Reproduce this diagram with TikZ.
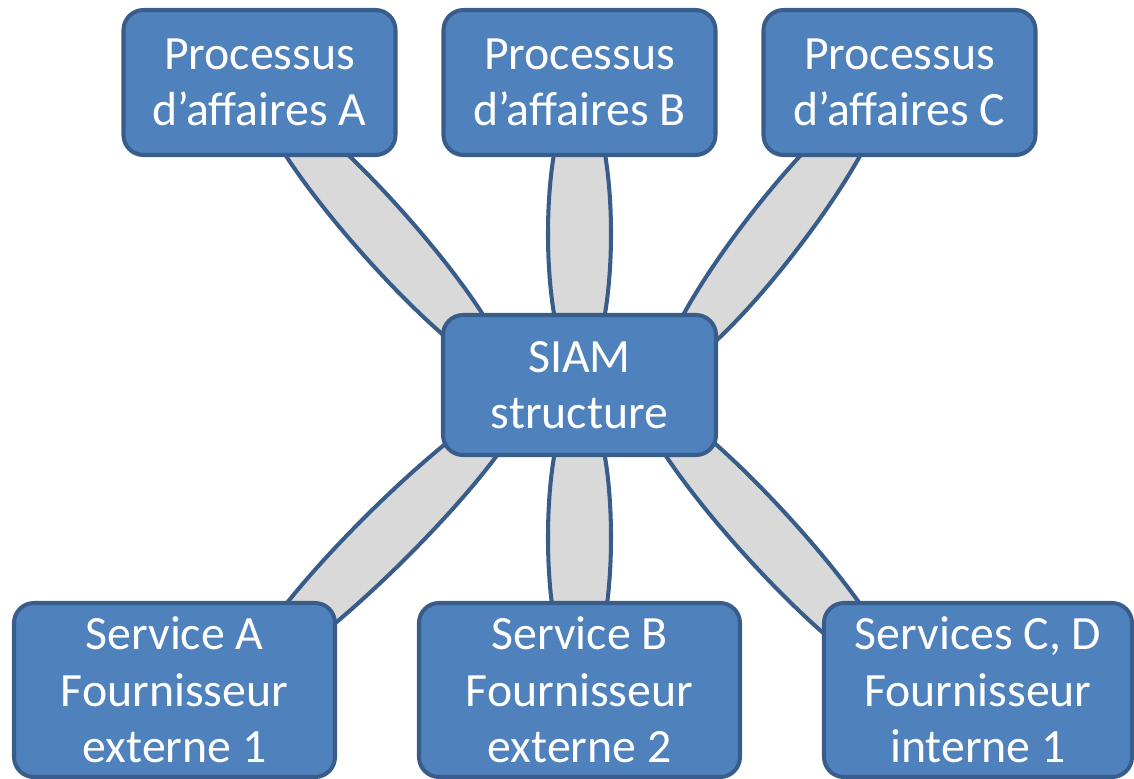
\documentclass[tikz,border=0pt]{standalone}
\usepackage{fontspec}
\setmainfont{Carlito}
\usepackage{tikz}
\usetikzlibrary{positioning, calc, backgrounds, shapes.geometric}
\tikzset{every picture/.append style={thick}}
\definecolor{boxblue}{HTML}{4F81BD}
\definecolor{boxedge}{HTML}{385D8A}
\definecolor{linkgray}{HTML}{D9D9D9}

\begin{document}
\begin{tikzpicture}[
    box/.style={draw=boxedge, fill=boxblue, line width=1.15pt, rounded corners=0.2cm,
        text=white, align=center, inner sep=0pt, font=\fontsize{13.6}{16.1}\selectfont},
    procbox/.style={box, minimum width=2.72cm, minimum height=1.45cm},
    svcbox/.style={box, minimum width=3.21cm, minimum height=1.74cm},
    link/.style={ellipse, draw=boxedge, fill=linkgray, line width=1.15pt, inner sep=0pt}
]
    \useasboundingbox (0,0) rectangle (11.34,7.78);

    % উপরের তিনটি বক্স (Processus d'affaires)
    \node[procbox] (procA) at (2.595,6.955) {Processus\\d’affaires A};
    \node[procbox] (procB) at (5.795,6.955) {Processus\\d’affaires B};
    \node[procbox] (procC) at (8.995,6.955) {Processus\\d’affaires C};

    % মাঝের বক্স (SIAM)
    \node[box, minimum width=2.73cm, minimum height=1.40cm] (siam) at (5.795,3.93) {SIAM\\structure};

    % নিচের তিনটি বক্স (Services)
    \node[svcbox] (svcA) at (1.745,0.88) {Service A\\Fournisseur\\externe 1};
    \node[svcbox] (svcB) at (5.795,0.88) {Service B\\Fournisseur\\externe 2};
    \node[svcbox, minimum width=3.08cm] (svcCD) at (9.78,0.88) {Services C, D\\Fournisseur\\interne 1};

    % তির্যক সংযোগের প্রান্তবিন্দু (link ends)
    \coordinate (endA1) at ($(procA)+(-0.10,0)$);
    \coordinate (endA2) at ($(siam)+(-0.62,0)$);
    \coordinate (endC1) at ($(procC)+(-0.10,0)$);
    \coordinate (endC2) at ($(siam)+(0.76,0)$);
    \coordinate (endSA1) at ($(siam)+(-0.41,0)$);
    \coordinate (endSA2) at ($(svcA)+(0.58,0)$);
    \coordinate (endSC1) at ($(siam)+(0.50,0)$);
    \coordinate (endSC2) at ($(svcCD)+(-0.71,0)$);

    % সংযোগ (ellipse connectors) -- বক্সের পিছনে
    \begin{scope}[on background layer]
        \foreach \a/\b/\w in {endA1/endA2/0.58, procB/siam/0.63, endC1/endC2/0.58,
                              endSA1/endSA2/0.58, siam/svcB/0.63, endSC1/endSC2/0.58} {
            \path let \p1 = ($(\b)-(\a)$), \n1 = {atan2(\y1,\x1)}, \n2 = {veclen(\x1,\y1)} in
                node[link, minimum width=0.9*\n2, minimum height=\w cm, rotate=\n1]
                    at ($(\a)!0.5!(\b)$) {};
        }
    \end{scope}

\end{tikzpicture}
\end{document}
